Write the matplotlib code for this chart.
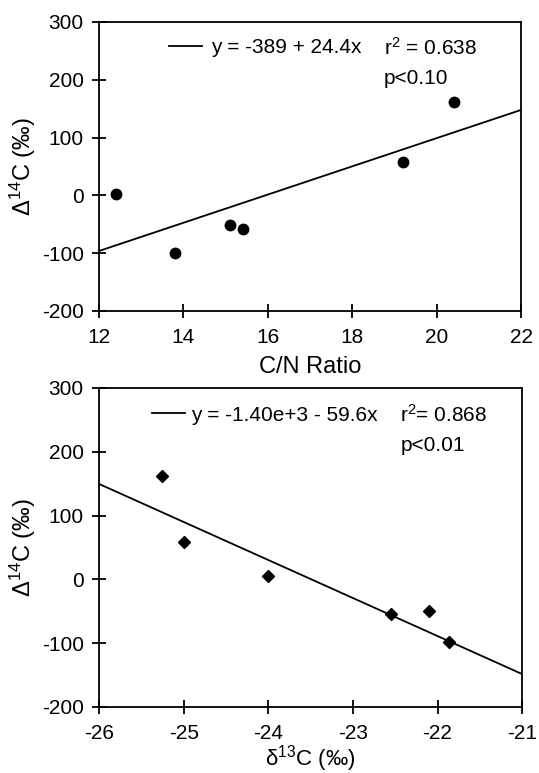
import numpy as np
import matplotlib
matplotlib.use("Agg")
import matplotlib.pyplot as plt
from matplotlib.lines import Line2D

plt.rcParams['font.family'] = ['Liberation Sans', 'DejaVu Sans']
plt.rcParams['mathtext.fontset'] = 'custom'
plt.rcParams['mathtext.rm'] = 'Liberation Sans'
plt.rcParams['mathtext.it'] = 'Liberation Sans'
plt.rcParams['mathtext.default'] = 'rm'
plt.rcParams['axes.unicode_minus'] = False

# C/N ratio vs radiocarbon
cn_ratio = [12.4, 13.8, 15.1, 15.4, 19.2, 20.4]
d14c_cn = [2, -100, -51, -59, 58, 161]
cn_fit = (-389, 24.4)

# d13C vs radiocarbon
d13c = [-25.25, -25.0, -24.0, -22.55, -22.1, -21.87]
d14c_d13 = [162, 58, 5, -55, -50, -98]
d13_fit = (-1.40e3, -59.6)

FS = 15       # annotation text
TICK_FS = 15
LAB_FS = 17
LW = 1.3

fig = plt.figure(figsize=(5.39, 7.73), dpi=100)
ax1 = fig.add_axes([0.1837, 0.5977, 0.783, 0.3739])
ax2 = fig.add_axes([0.1837, 0.0854, 0.785, 0.4127])


def style(ax):
    for s in ax.spines.values():
        s.set_linewidth(LW)
    ax.tick_params(direction='inout', length=10, width=LW, labelsize=TICK_FS)
    ax.tick_params(axis='x', pad=7)
    ax.tick_params(axis='y', pad=6)


# top panel
xs = np.array([12, 22])
ax1.plot(xs, cn_fit[0] + cn_fit[1] * xs, color='black', lw=LW)
ax1.plot(cn_ratio, d14c_cn, 'o', color='black', ms=7.5)
ax1.set_xlim(12, 22)
ax1.set_ylim(-200, 300)
ax1.set_xticks([12, 14, 16, 18, 20, 22])
ax1.set_yticks([-200, -100, 0, 100, 200, 300])
ax1.set_xlabel('C/N Ratio', fontsize=LAB_FS, labelpad=7)
ax1.set_ylabel(r'$\Delta^{14}$C (‰)', fontsize=LAB_FS, labelpad=3)
style(ax1)
h = Line2D([], [], color='black', lw=LW)
ax1.legend([h], ['y = -389 + 24.4x'], loc='center left', bbox_to_anchor=(0.166, 0.910),
           frameon=False, fontsize=FS, borderpad=0, borderaxespad=0,
           handlelength=1.6, handletextpad=0.4)
ax1.text(0.675, 0.910, r'r$^2$ = 0.638', transform=ax1.transAxes, fontsize=FS, va='center')
ax1.text(0.675, 0.806, 'p<0.10', transform=ax1.transAxes, fontsize=FS, va='center')

# bottom panel
xs = np.array([-26, -21])
ax2.plot(xs, d13_fit[0] + d13_fit[1] * xs, color='black', lw=LW)
ax2.plot(d13c, d14c_d13, 'D', color='black', ms=6.5)
ax2.set_xlim(-26, -21)
ax2.set_ylim(-200, 300)
ax2.set_xticks([-26, -25, -24, -23, -22, -21])
ax2.set_yticks([-200, -100, 0, 100, 200, 300])
ax2.set_xlabel(r'$\delta^{13}$C (‰)', fontsize=16, labelpad=0)
ax2.set_ylabel(r'$\Delta^{14}$C (‰)', fontsize=LAB_FS, labelpad=3)
style(ax2)
ax2.legend([h], ['y = -1.40e+3 - 59.6x'], loc='center left', bbox_to_anchor=(0.125, 0.915),
           frameon=False, fontsize=FS, borderpad=0, borderaxespad=0,
           handlelength=1.6, handletextpad=0.3)
ax2.text(0.712, 0.915, r'r$^2$= 0.868', transform=ax2.transAxes, fontsize=FS, va='center')
ax2.text(0.712, 0.821, 'p<0.01', transform=ax2.transAxes, fontsize=FS, va='center')

fig.savefig('out.png', dpi=100)
